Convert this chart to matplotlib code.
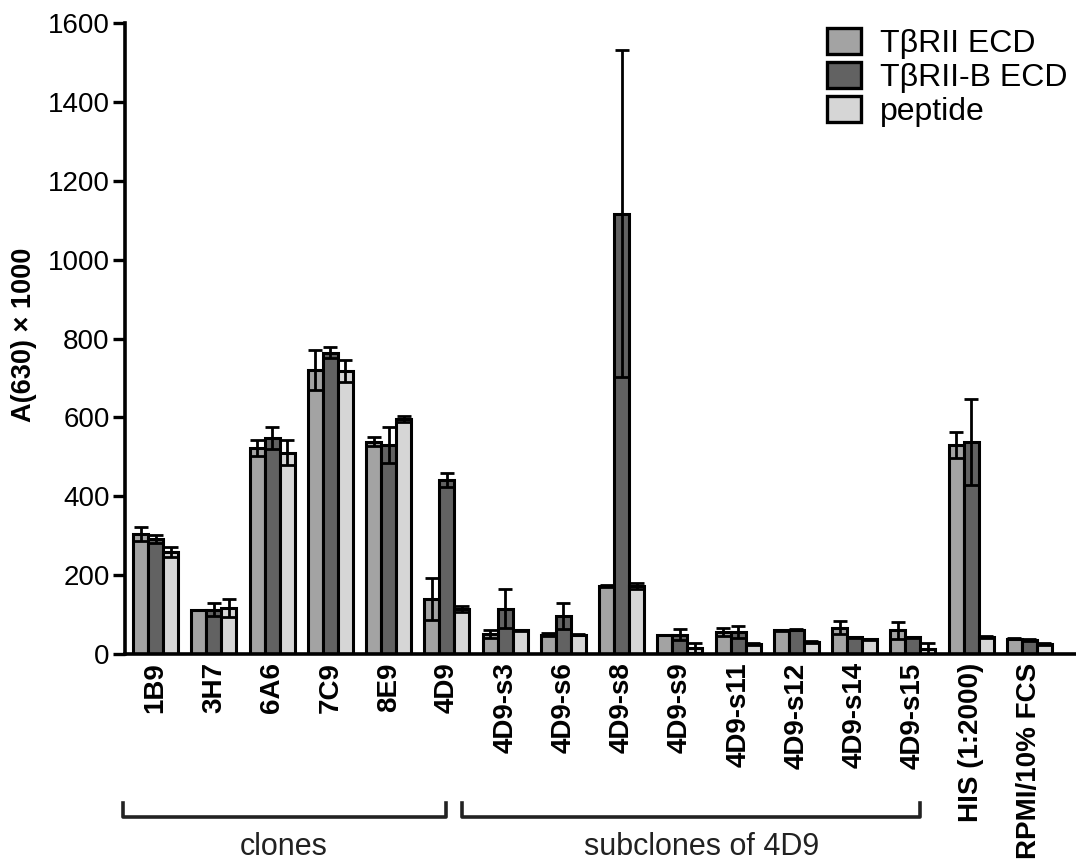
import matplotlib
matplotlib.use('Agg')
import matplotlib.pyplot as plt
import matplotlib.transforms as mtransforms
from matplotlib.patches import Patch
import numpy as np

plt.rcParams['font.family'] = ['Liberation Sans', 'DejaVu Sans']

samples = ['1B9', '3H7', '6A6', '7C9', '8E9', '4D9',
           '4D9-s3', '4D9-s6', '4D9-s8', '4D9-s9', '4D9-s11', '4D9-s12',
           '4D9-s14', '4D9-s15', 'HIS (1:2000)', 'RPMI/10% FCS']

ecd = [304, 112, 522, 721, 539, 139, 51, 49, 173, 49, 56, 60, 67, 60, 529, 39]
ecd_err = [17, 0, 21, 51, 12, 53, 10, 3, 2, 0, 10, 2, 16, 21, 33, 2]

ecd_b = [292, 112, 548, 764, 530, 441, 115, 97, 1117, 49, 56, 62, 42, 42, 538, 35]
ecd_b_err = [11, 16, 27, 14, 45, 18, 50, 33, 415, 14, 15, 2, 2, 2, 110, 2]

peptide = [258, 117, 511, 718, 596, 114, 60, 49, 172, 15, 26, 30, 37, 13, 43, 25]
peptide_err = [13, 23, 31, 29, 8, 8, 2, 1, 8, 12, 3, 2, 2, 16, 3, 3]

series_names = ['T\u03b2RII ECD', 'T\u03b2RII-B ECD', 'peptide']
colors = ['#a3a3a3', '#626262', '#d6d6d6']

fig = plt.figure(figsize=(10.76, 8.65), dpi=100)
ax = fig.add_axes([0.116, 0.244, 0.884, 0.729])

x = np.arange(len(samples))
w = 0.257
for i, (vals, errs) in enumerate([(ecd, ecd_err), (ecd_b, ecd_b_err), (peptide, peptide_err)]):
    ax.bar(x + (i - 1) * w, vals, w, color=colors[i], edgecolor='black', linewidth=2.2,
           yerr=errs, error_kw=dict(ecolor='black', elinewidth=2.0, capsize=5, capthick=2.0),
           zorder=2)

ax.set_xlim(-0.53, 15.8)
ax.set_ylim(0, 1600)
ax.set_yticks(range(0, 1601, 200))
ax.set_xticks(x)
ax.set_xticklabels(samples, rotation=90, fontsize=20, fontweight='bold')
ax.tick_params(axis='x', length=0, pad=6)
ax.tick_params(axis='y', labelsize=20, length=9, width=2.4, pad=2)
for s in ['top', 'right']:
    ax.spines[s].set_visible(False)
for s in ['left', 'bottom']:
    ax.spines[s].set_linewidth(2.6)

fig.text(24 / 1076, 1 - 335 / 865, 'A(630) \u00d7 1000', rotation=90, fontsize=19.5,
         fontweight='bold', ha='center', va='center')

handles = [Patch(facecolor=c, edgecolor='black', linewidth=2.4) for c in colors]
fig.legend(handles, series_names, loc='upper right', bbox_to_anchor=(1.004, 0.982),
           frameon=False, fontsize=23, handlelength=1.05, handleheight=0.85,
           labelspacing=0.1, handletextpad=0.6, borderaxespad=0)

# group brackets below the labels
trans = mtransforms.blended_transform_factory(ax.transData, fig.transFigure)
y_line = 1 - 817 / 865
y_top = 1 - 803 / 865
for x0, x1 in [(-0.565, 4.98), (5.26, 13.13)]:
    ax.plot([x0, x0, x1, x1], [y_top, y_line, y_line, y_top], transform=trans,
            color='#222222', linewidth=2.6, clip_on=False)
fig.text(2.2, 1 - 847 / 865, 'clones', transform=trans, fontsize=22,
         color='#222222', ha='center', va='center')
fig.text(9.37, 1 - 847 / 865, 'subclones of 4D9', transform=trans, fontsize=22,
         color='#222222', ha='center', va='center')

fig.savefig('out.png', dpi=100)
